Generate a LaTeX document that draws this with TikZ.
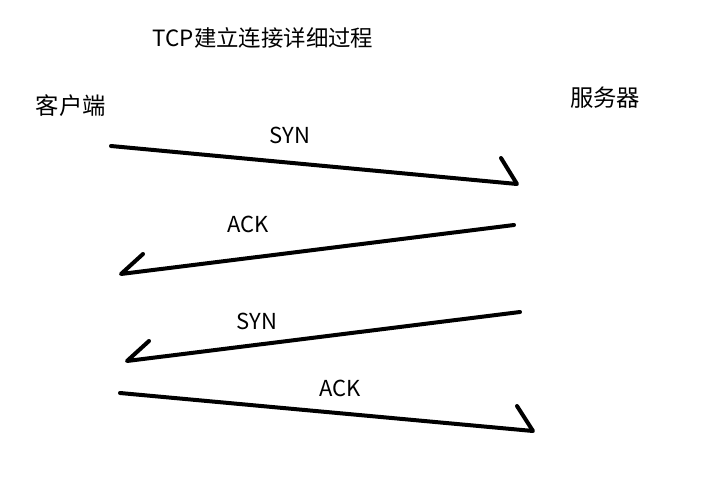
\documentclass[tikz,border=0pt]{standalone}
\usepackage{fontspec}
\setmainfont{Noto Sans CJK SC}
\usepackage{tikz}
\usetikzlibrary{calc}

\begin{document}
\begin{tikzpicture}[
  x=0.75pt, y=-0.75pt,
  title/.style={font=\fontsize{16.8}{19}\selectfont, inner sep=0pt},
  peer/.style={font=\fontsize{17.5}{19}\selectfont, inner sep=0pt},
  lbl/.style={font=\fontsize{16.5}{18}\selectfont, inner sep=0pt},
  msg/.style={line width=3pt, line cap=round, line join=round},
]
  \useasboundingbox[fill=white] (0,0) rectangle (715,493);

  \node[title] (head)   at (263,38)  {TCP建立连接详细过程};
  \node[peer]  (client) at (71,106)  {客户端};
  \node[peer]  (server) at (605,98)  {服务器};

  % end points of the four messages
  \coordinate (s1) at (111,146); \coordinate (t1) at (517,184);
  \coordinate (s2) at (514,225); \coordinate (t2) at (121,274);
  \coordinate (s3) at (520,312); \coordinate (t3) at (127,361);
  \coordinate (s4) at (120,393); \coordinate (t4) at (533,431);

  \draw[msg] (s1) -- (t1) -- ++(-16,-26);
  \draw[msg] (s2) -- (t2) -- ++(22,-20);
  \draw[msg] (s3) -- (t3) -- ++(22,-20);
  \draw[msg] (s4) -- (t4) -- ++(-16,-25);

  \node[lbl] (syn1) at (290,135) {SYN};
  \node[lbl] (ack1) at (248,224) {ACK};
  \node[lbl] (syn2) at (257,321) {SYN};
  \node[lbl] (ack2) at (340,388) {ACK};
\end{tikzpicture}
\end{document}
